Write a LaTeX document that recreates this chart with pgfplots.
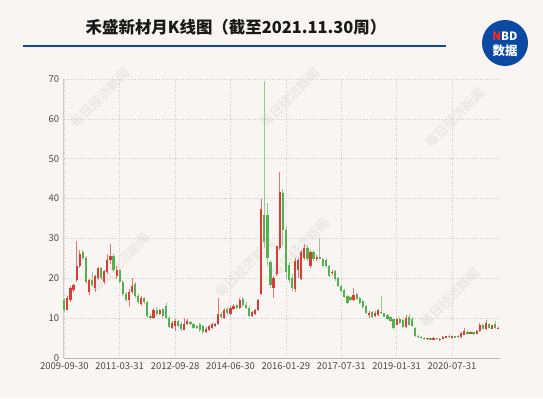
\documentclass[border=0pt]{standalone}
\usepackage{pgfplots}
\usepackage{pgfplotstable}
\pgfplotsset{compat=1.18}
\usepackage{fontspec}
\setmainfont{Noto Sans CJK SC}
\definecolor{bg}{HTML}{F8F5F2}
\definecolor{cred}{HTML}{DD3B35}
\definecolor{cgreen}{HTML}{55B04F}
\definecolor{gridc}{HTML}{D2CECA}
\definecolor{nbd}{HTML}{0B4AA2}
\definecolor{tickc}{HTML}{4A4A4A}

\pgfplotstableread{
i o h l c
0 14.5 15 11.5 12
1 12 15.5 12 15
2 14.5 18 14 17.5
3 17 18.5 16.5 18.3
4 19.5 29.3 19 23
5 23 27 22.5 26
6 26.5 27.2 24.5 25
7 25 25.5 18.5 19
8 16.5 19.8 15.7 19.5
9 19.5 21.5 17.8 18.2
10 17.5 20.8 16.5 20.5
11 20 22.8 19.5 22.5
12 22.5 22.8 19.5 20
13 19 22 18.5 21.8
14 21.5 26 21 24.5
15 24.5 28.5 23.5 25.5
16 25.5 26 21.5 22
17 20.5 23 19.8 22
18 22 22.2 18.8 19
19 19 19.5 15.5 16
20 16 16.5 14 14.5
21 14.5 17.2 12.8 16.5
22 16.5 20 16 18
23 18.5 19 15 15.5
24 15.5 16 13.5 14
25 13.5 15.5 13 15
26 15 15.2 13.5 14
27 14 14.2 10 10.5
28 10.5 11 9.5 10
29 10 12.5 9.8 12
30 12 12.8 10.5 11
31 11 12.3 10.8 12
32 12.2 12.5 10 10.5
33 13 13.8 9.8 10
34 10 10.5 7.5 7.8
35 7.6 9.2 7.3 8.8
36 8 9.8 6.8 9.3
37 9.2 9.6 7.8 8
38 8.6 9 6.8 7.2
39 7.1 10 7 8.5
40 8.5 9.7 8.2 9.4
41 9 9.3 8.2 8.5
42 8.6 8.9 7.3 7.6
43 8 8.3 7.2 7.5
44 8.5 8.8 6.6 7
45 8 8.4 6 6.5
46 6.5 7.8 6.2 7.4
47 7 8.2 6.8 8
48 7.6 8.9 7.4 8.5
49 8 8.9 7.7 8.6
50 8.5 15 8.3 11
51 11 11.5 9.8 10.2
52 10 12.5 9.8 12
53 12.2 12.8 10.8 11.2
54 11 13 10.8 12.5
55 12.2 13.5 12 13
56 13.2 13.5 12.2 12.6
57 12.5 15 12.2 14.6
58 14.8 15.3 12.8 13.2
59 13.2 14 12.3 12.6
60 12.6 13 10.3 10.6
61 10.5 11.8 10.3 11.5
62 11 12.2 10.8 12
63 12 14.8 11.8 14.6
64 16 40 15.8 37.5
65 36 69.5 27.5 29
66 36 39 23 25
67 24 24.5 17.5 18.3
68 17.5 20.5 15 20
69 21 28 20.5 28
70 27.5 46.7 27 41.7
71 41.3 42.5 28 32
72 32 33 20 21.7
73 23.3 24 18.8 19.5
74 20 21 16.8 17.6
75 17.2 25 16.5 24.4
76 22 25.2 20 24.5
77 19.7 27 19.5 26.5
78 25.2 28.5 24.5 27.7
79 27.7 28.3 24.3 24.8
80 23 27 22.5 26.5
81 26.5 27 24.3 24.8
82 24.8 25.8 24.3 25.3
83 25.3 30 24.5 24.8
84 24.8 25.2 22.8 23.1
85 24.5 25 22.6 23.1
86 23 23.4 20.3 20.6
87 21.3 22.2 20.8 21.7
88 21.8 22.1 19.4 19.7
89 20 20.3 17.8 18
90 18 18.3 16.5 16.8
91 17 17.3 15 15.3
92 15.5 15.8 13.6 13.9
93 15.3 15.6 14.2 14.5
94 14.5 17.6 14.2 15.8
95 16 16.4 14.5 14.8
96 15 15.3 13.6 13.9
97 14.2 14.5 12.4 12.7
98 13 13.3 11 11.3
99 10.9 11.8 10 11.3
100 11.5 11.8 10 10.2
101 10.5 11.8 10.3 11.3
102 10.9 12.3 10.6 12
103 11.5 15.5 11 11.2
104 11.2 11.4 10.2 10.4
105 10.7 11 9.6 9.9
106 10.2 10.4 9.1 9.3
107 9.7 9.9 7.4 7.6
108 8.4 10 8.2 9.9
109 9.9 10.2 8.6 8.8
110 9.5 9.8 7.6 7.8
111 7.9 10.8 7.5 10
112 10.2 11 8.2 8.4
113 9.7 10.2 7.8 8
114 7.6 7.8 5.3 5.5
115 5.5 5.8 5 5.2
116 5.2 5.4 4.8 5
117 5.0 5.2 4.6 4.8
118 4.7 5.1 4.5 4.9
119 4.9 5 4.4 4.6
120 4.6 5.3 4.5 5.1
121 5 5.1 4.5 4.7
122 4.5 5 4.3 4.8
123 4.8 5.4 4.7 5.2
124 5.1 5.6 5 5.4
125 5.6 5.8 5 5.2
126 5 5.6 4.9 5.4
127 5.4 5.6 5 5.1
128 5.4 5.7 5 5.2
129 5.2 6.5 5 6.2
130 5.8 7.6 5.7 6.9
131 6.6 7 5.8 6.1
132 6 6.6 5.9 6.4
133 6.4 6.6 5.8 6
134 6 7 5.9 6.8
135 6.7 8.7 6.6 8.2
136 8.2 8.5 7.2 7.4
137 7.2 9.6 7 8.8
138 8.6 8.8 7.3 7.6
139 7.4 8.4 7.3 8.2
140 8.6 9.2 7.4 7.6
141 7.3 7.9 7.2 7.6
}\kdata

\begin{document}
\begin{tikzpicture}[x=1bp,y=1bp]
\fill[bg] (0,0) rectangle (543,398);
\useasboundingbox (0,0) rectangle (543,398);
% watermarks
\foreach \px/\py in {100/300, 290/300, 455/280, 120/135, 245/130, 300/150, 450/100}{
  \node[rotate=45, text=black, opacity=0.05, font=\bfseries\fontsize{13}{13}\selectfont] at (\px,\py) {每日经济新闻};
}
% title
\node[font=\bfseries\fontsize{16.5}{18}\selectfont, text=black!90] at (236,371) {禾盛新材月K线图（截至2021.11.30周）};
\draw[nbd, line width=2.2bp] (23,352) -- (446,352);
% NBD badge
\fill[nbd] (505,355) circle (23);
\node[font=\bfseries\itshape\fontsize{11.5}{12}\selectfont, inner sep=0] at (505,362) {\textcolor{red!85!white}{N}\textcolor{white}{BD}};
\node[font=\bfseries\fontsize{12.5}{13}\selectfont, text=white, inner sep=0] at (505,347) {数据};
\begin{axis}[
  at={(63.7bp,40bp)}, anchor=south west,
  scale only axis, width=436bp, height=279bp,
  xmin=-0.2, xmax=141.5, ymin=0, ymax=70,
  axis x line*=bottom, axis y line*=left,
  x axis line style={draw=gray!55, line width=0.8bp},
  y axis line style={draw=gray!40, line width=0.8bp},
  xtick={0,18,36,54,72,90,108,126},
  xticklabels={2009-09-30,2011-03-31,2012-09-28,2014-06-30,2016-01-29,2017-07-31,2019-01-31,2020-07-31},
  ytick={0,10,...,70},
  major tick length=0pt,
  tick label style={font=\fontsize{9.5}{10}\selectfont, text=tickc},
  /pgf/number format/assume math mode=true,
  xticklabel style={yshift=-1bp},
  yticklabel style={xshift=-1bp},
  grid=major,
  major grid style={draw=gridc, dotted, line width=0.7bp},
  unbounded coords=discard,
  filter discard warning=false,
  clip=false,
]
% red wicks
\addplot[draw=none, mark=none, forget plot,
  y filter/.expression={\thisrow{c}>=\thisrow{o} ? y : nan},
  error bars/.cd, y dir=minus, y explicit, error mark=none,
  error bar style={draw=cred!70, line width=0.7bp}]
  table[x=i, y=h, y error minus expr=\thisrow{h}-\thisrow{l}] {\kdata};
% green wicks
\addplot[draw=none, mark=none, forget plot,
  y filter/.expression={\thisrow{c}<\thisrow{o} ? y : nan},
  error bars/.cd, y dir=minus, y explicit, error mark=none,
  error bar style={draw=cgreen!65, line width=0.7bp}]
  table[x=i, y=h, y error minus expr=\thisrow{h}-\thisrow{l}] {\kdata};
% red bodies
\addplot[draw=none, mark=none, forget plot,
  y filter/.expression={\thisrow{c}>=\thisrow{o} ? y : nan},
  error bars/.cd, y dir=minus, y explicit, error mark=none,
  error bar style={draw=cred, line width=2.2bp}]
  table[x=i, y expr={max(\thisrow{o},\thisrow{c})}, y error minus expr={max(abs(\thisrow{c}-\thisrow{o}),0.15)}] {\kdata};
% green bodies
\addplot[draw=none, mark=none, forget plot,
  y filter/.expression={\thisrow{c}<\thisrow{o} ? y : nan},
  error bars/.cd, y dir=minus, y explicit, error mark=none,
  error bar style={draw=cgreen, line width=2.2bp}]
  table[x=i, y expr={max(\thisrow{o},\thisrow{c})}, y error minus expr={max(abs(\thisrow{c}-\thisrow{o}),0.15)}] {\kdata};
\end{axis}
\end{tikzpicture}
\end{document}
